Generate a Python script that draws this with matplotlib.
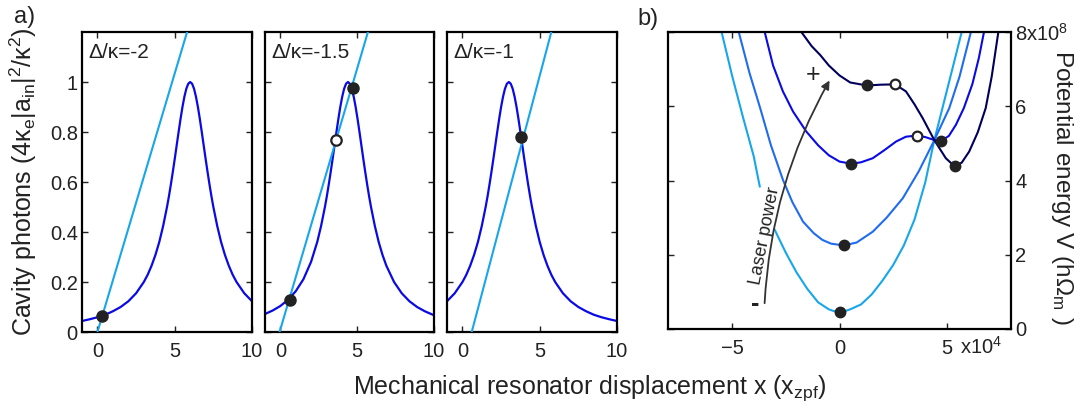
import matplotlib
matplotlib.use('Agg')
import matplotlib.pyplot as plt
from matplotlib.patches import FancyArrowPatch

plt.rcParams['font.family'] = ['Liberation Sans', 'DejaVu Sans']
plt.rcParams['mathtext.default'] = 'regular'
plt.rcParams['axes.unicode_minus'] = True

TXT = '#222222'
LIGHT = '#18a6ea'
MID = '#1f6cf0'
BLUE = '#0a0ae6'
NAVY = '#00005c'
DOT = '#222222'
GAP = float('nan')

# ---- panel a: cavity photon number vs displacement (x in x_zpf) ----
detunings = ['Δ/κ=-2', 'Δ/κ=-1.5', 'Δ/κ=-1']

n1_x = [-1, -0.5, 0, 0.5, 1, 1.5, 2, 2.5, 3, 3.25, 3.5, 3.75, 4, 4.25, 4.5,
        4.625, 4.75, 4.875, 5, 5.125, 5.25, 5.375, 5.5, 5.625, 5.75, 5.875, 6,
        6.125, 6.25, 6.375, 6.5, 6.625, 6.75, 6.875, 7, 7.125, 7.25, 7.375,
        7.5, 7.75, 8, 8.25, 8.5, 8.75, 9, 9.5, 10]
n1_y = [.044, .051, .059, .069, .083, .100, .123, .155, .200, .229, .265, .308,
        .360, .424, .500, .543, .590, .640, .692, .746, .800, .852, .900, .941,
        .973, .993, 1, .993, .973, .941, .900, .852, .800, .746, .692, .640,
        .590, .543, .500, .424, .360, .308, .265, .229, .200, .155, .123]

n2_x = [-1, -0.5, 0, 0.5, 1, 1.5, 2, 2.4, 2.65, 2.9, 3.025, 3.15, 3.275, 3.4,
        3.525, 3.65, 3.775, 3.9, 4.025, 4.15, 4.275, 4.4, 4.525, 4.65, 4.775,
        4.9, 5.025, 5.15, 5.275, 5.4, 5.525, 5.65, 5.775, 5.9, 6.15, 6.4, 6.65,
        6.9, 7.4, 7.9, 8.4, 8.9, 9.4, 10]
n2_y = [.072, .086, .104, .129, .163, .211, .281, .360, .424, .500, .543, .590,
        .640, .692, .746, .800, .852, .900, .941, .973, .993, 1, .993, .973,
        .941, .900, .852, .800, .746, .692, .640, .590, .543, .500, .424, .360,
        .308, .265, .200, .155, .123, .100, .083, .067]

n3_x = [-1, -0.5, 0, 0.25, 0.5, 0.75, 1, 1.25, 1.5, 1.625, 1.75, 1.875, 2,
        2.125, 2.25, 2.375, 2.5, 2.625, 2.75, 2.875, 3, 3.125, 3.25, 3.375, 3.5,
        3.625, 3.75, 3.875, 4, 4.125, 4.25, 4.375, 4.5, 4.75, 5, 5.25, 5.5,
        5.75, 6, 6.5, 7, 7.5, 8, 8.5, 9, 9.5, 10]
n3_y = [.123, .155, .200, .229, .265, .308, .360, .424, .500, .543, .590, .640,
        .692, .746, .800, .852, .900, .941, .973, .993, 1, .993, .973, .941,
        .900, .852, .800, .746, .692, .640, .590, .543, .500, .424, .360, .308,
        .265, .229, .200, .155, .123, .100, .083, .069, .059, .051, .044]

# straight lines (light blue), given by their two ends
line_x = [[0.0, 5.8], [-0.05, 5.7], [0.6, 5.75]]
line_y = [[0.0, 1.2], [0.0, 1.2], [0.0, 1.2]]

# solutions: filled = stable, open = unstable
stable_a = [([0.3], [0.065]), ([0.6, 4.7], [0.13, 0.975]), ([3.8], [0.78])]
unstable_a = [([], []), ([3.65], [0.77]), ([], [])]

# ---- panel b: potential (x in 1e4 x_zpf, V in 1e8 hOmega_m) ----
# light-blue curve is broken where the "Laser power" text sits
v1_x = [-5.5, -5.0, -4.5, -4.0, -3.72, GAP, -3.02, -2.5, -2.0, -1.5, -1.0,
        -0.5, -0.25, 0.0, 0.25, 0.5, 1.0, 1.5, 2.0, 2.5, 3.0, 3.5, 4.0, 4.42,
        5.0, 5.7]
v1_y = [8.0, 6.8, 5.7, 4.65, 3.84, GAP, 2.67, 2.05, 1.52, 1.08, 0.72,
        0.53, 0.48, 0.46, 0.48, 0.53, 0.66, 0.93, 1.3, 1.72, 2.25, 2.95, 3.95,
        5.08, 6.4, 8.0]

v2_x = [-4.7, -4.2, -3.7, -3.2, -2.64, -2.2, -1.7, -1.2, -0.8, -0.4, 0.2, 0.8,
        1.55, 2.2, 2.95, 3.7, 4.42, 5.12, 5.6, 6.13]
v2_y = [8.0, 6.9, 5.95, 4.95, 4.02, 3.42, 2.89, 2.58, 2.4, 2.3, 2.25, 2.33,
        2.62, 3.0, 3.52, 4.25, 5.08, 5.95, 6.8, 8.0]

v3_x = [-3.49, -3.1, -2.64, -2.17, -1.55, -1.0, -0.5, 0.0, 0.55, 1.0, 1.55, 2.1,
        2.64, 3.1, 3.6, 4.0, 4.42, 4.75, 5.1, 5.43, 5.8, 6.2, 6.5, 6.74]
v3_y = [8.0, 7.1, 6.4, 5.86, 5.32, 4.95, 4.68, 4.51, 4.45, 4.49, 4.6, 4.82,
        5.05, 5.18, 5.21, 5.17, 5.09, 5.07, 5.2, 5.5, 5.95, 6.6, 7.3, 8.0]

v4_x = [-1.78, -1.3, -0.9, -0.5, 0.0, 0.5, 1.27, 1.9, 2.59, 3.1, 3.5, 3.88,
        4.42, 4.96, 5.37, 5.7, 6.05, 6.45, 6.82, 7.1, 7.41]
v4_y = [8.0, 7.62, 7.38, 7.1, 6.83, 6.64, 6.56, 6.58, 6.59, 6.4, 6.05, 5.68,
        5.09, 4.6, 4.38, 4.48, 4.78, 5.3, 5.95, 6.8, 8.0]

stable_bx = [0.03, 0.2, 0.55, 1.27, 4.75, 5.37]
stable_by = [0.46, 2.25, 4.45, 6.56, 5.07, 4.38]
unstable_bx = [2.59, 3.6]
unstable_by = [6.59, 5.21]

W, H = 1083, 408
fig = plt.figure(figsize=(W / 100, H / 100), dpi=100)


def box(l, r, t, b):
    return [l / W, 1 - b / H, (r - l) / W, (b - t) / H]


def style(ax):
    for s in ax.spines.values():
        s.set_linewidth(1.6)
        s.set_color('black')
    ax.tick_params(direction='in', length=4, width=1, top=True, right=True,
                   labelsize=14.5, colors=TXT)
    ax.tick_params(axis='x', pad=7)
    ax.tick_params(axis='y', pad=3)


curves = [(n1_x, n1_y), (n2_x, n2_y), (n3_x, n3_y)]
edges = [(82, 252), (265, 434), (447, 617)]
for i in range(3):
    ax = fig.add_axes(box(edges[i][0], edges[i][1], 32, 332))
    ax.plot(curves[i][0], curves[i][1], color=BLUE, lw=1.6, zorder=2)
    ax.plot(line_x[i], line_y[i], color=LIGHT, lw=1.5, zorder=3)
    ax.plot(stable_a[i][0], stable_a[i][1], 'o', ms=8, color=DOT, zorder=4)
    ax.plot(unstable_a[i][0], unstable_a[i][1], 'o', ms=7.5, mfc='white',
            mec=DOT, mew=1.6, zorder=4)
    ax.set_xlim(-1, 10)
    ax.set_ylim(0, 1.2)
    ax.set_xticks([0, 5, 10])
    ax.set_yticks([0, 0.2, 0.4, 0.6, 0.8, 1.0])
    if i == 0:
        ax.set_yticklabels(['0', '0.2', '0.4', '0.6', '0.8', '1'])
    else:
        ax.set_yticklabels([])
    style(ax)
    ax.text(0.04, 0.933, detunings[i], transform=ax.transAxes, fontsize=15,
            color=TXT, va='center', ha='left')

# panel b
axb = fig.add_axes(box(668, 1011, 32, 329))
axb.plot(v1_x, v1_y, color=LIGHT, lw=1.5, zorder=2)
axb.plot(v2_x, v2_y, color=MID, lw=1.5, zorder=2)
axb.plot(v3_x, v3_y, color=BLUE, lw=1.5, zorder=2)
axb.plot(v4_x, v4_y, color=NAVY, lw=1.5, zorder=2)
axb.plot(stable_bx, stable_by, 'o', ms=7.5, color=DOT, zorder=5)
axb.plot(unstable_bx, unstable_by, 'o', ms=7, mfc='white', mec=DOT, mew=1.6,
         zorder=5)
axb.set_xlim(-8, 8)
axb.set_ylim(0, 8)
axb.set_xticks([-5, 0, 5])
axb.set_xticklabels(['\u22125', '0', '5'])
axb.set_yticks([0, 2, 4, 6, 8])
axb.set_yticklabels(['0', '2', '4', '6', '8x10$^8$'])
axb.yaxis.tick_right()
style(axb)
axb.tick_params(left=True)
axb.text(7.6, -0.48, 'x10$^4$', fontsize=14.5, color=TXT, ha='right', va='center')

arrow = FancyArrowPatch((-3.5, 0.62), (-0.4, 6.76),
                        connectionstyle='arc3,rad=-0.12',
                        arrowstyle='-|>,head_length=5,head_width=2.5',
                        color='#333333', lw=1.3, zorder=4)
axb.add_patch(arrow)
axb.text(-3.45, 2.5, 'Laser power', rotation=79, fontsize=13, color=TXT,
         ha='center', va='center', rotation_mode='anchor', zorder=3)
axb.text(-1.24, 6.85, '+', fontsize=18, color=TXT, ha='center', va='center')
axb.text(-3.95, 0.67, '-', fontsize=18, fontweight='bold', color=TXT,
         ha='center', va='center')

# labels
fig.text(23 / W, 1 - 182 / H, 'Cavity photons (4κ$_e$|a$_{in}$|$^2$/κ$^2$)',
         rotation=90, fontsize=18, color=TXT, ha='center', va='center')
fig.text(1062 / W, 1 - 187 / H, 'Potential energy V (hΩ$_m$ )',
         rotation=-90, fontsize=17.5, color=TXT, ha='center', va='center')
fig.text(590 / W, 1 - 388 / H, 'Mechanical resonator displacement x (x$_{zpf}$)',
         fontsize=18, color=TXT, ha='center', va='center')
fig.text(25 / W, 1 - 17 / H, 'a)', fontsize=17, color=TXT, ha='center', va='center')
fig.text(648 / W, 1 - 19 / H, 'b)', fontsize=17, color=TXT, ha='center', va='center')

fig.savefig('out.png', dpi=100)
